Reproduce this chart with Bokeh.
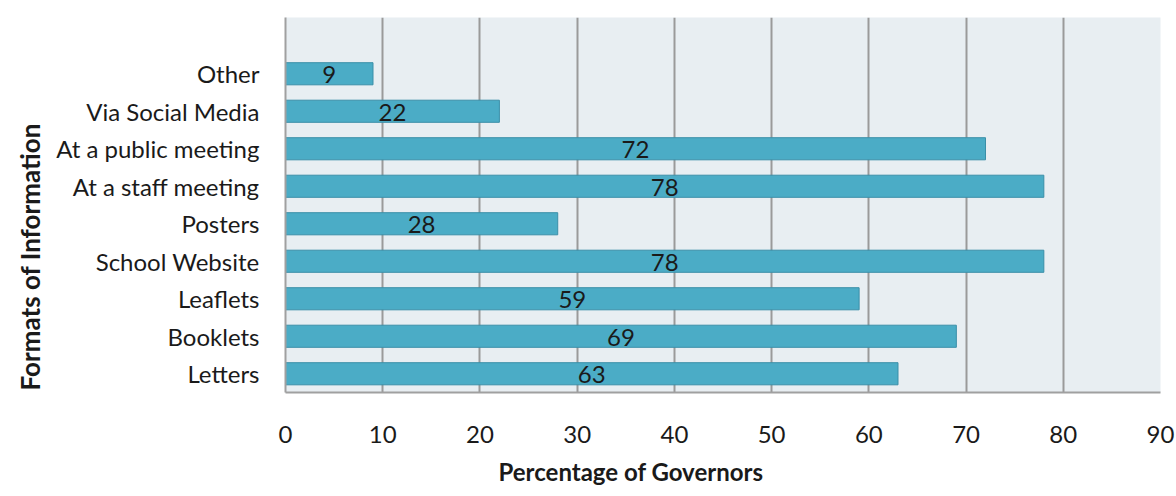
from bokeh.plotting import figure
from bokeh.models import ColumnDataSource, Range1d, FixedTicker, Title
from bokeh.core.properties import value
from bokeh.embed import file_html
from bokeh.resources import INLINE

# Survey results: share of governors receiving information in each format
formats = ["Letters", "Booklets", "Leaflets", "School Website", "Posters",
           "At a staff meeting", "At a public meeting", "Via Social Media", "Other"]
percentages = [63, 69, 59, 78, 28, 78, 72, 22, 9]
x_ticks = [0, 10, 20, 30, 40, 50, 60, 70, 80, 90]

FONT = "Lato"
TEXT = "#1A1A1A"
SIZE = "24px"
positions = list(range(len(formats)))

src = ColumnDataSource(dict(
    pos=positions,
    pct=percentages,
    mid=[v / 2 for v in percentages],
    lbl=[str(v) for v in percentages],
))

p = figure(width=1176, height=496, output_backend="svg", toolbar_location=None,
           x_range=Range1d(0, 90), y_range=Range1d(-0.5, len(formats) + 0.5),
           min_border_left=285, min_border_right=16, min_border_top=17,
           min_border_bottom=104)

p.background_fill_color = "#E8EEF2"
p.border_fill_color = "white"
p.outline_line_color = None

p.hbar(y="pos", left=0, right="pct", height=0.59, source=src,
       fill_color="#4BACC6", line_color="#3A8FA8", line_width=1)

p.text(x="mid", y="pos", text="lbl", source=src, text_align="center",
       text_baseline="middle", y_offset=1, text_font=value(FONT),
       text_font_size=SIZE, text_color=TEXT)

# x axis
p.xaxis.ticker = FixedTicker(ticks=x_ticks)
p.xaxis.major_tick_line_color = None
p.xaxis.minor_tick_line_color = None
p.xaxis.axis_line_color = "#A0A0A0"
p.xaxis.axis_line_width = 2
p.xaxis.major_label_standoff = 27
p.xaxis.major_label_text_font = FONT
p.xaxis.major_label_text_font_size = SIZE
p.xaxis.major_label_text_color = TEXT

# y axis with category names
p.yaxis.ticker = FixedTicker(ticks=positions)
p.yaxis.major_label_overrides = {i: f for i, f in enumerate(formats)}
p.yaxis.major_tick_line_color = None
p.yaxis.minor_tick_line_color = None
p.yaxis.axis_line_color = "#A0A0A0"
p.yaxis.axis_line_width = 2
p.yaxis.major_label_standoff = 20
p.yaxis.major_label_text_font = FONT
p.yaxis.major_label_text_font_size = SIZE
p.yaxis.major_label_text_color = TEXT

p.xgrid.grid_line_color = "#9A9A9A"
p.xgrid.grid_line_width = 2
p.ygrid.grid_line_color = None

# axis titles
p.add_layout(Title(text="Percentage of Governors", align="left", offset=213,
                   standoff=18, text_font=FONT, text_font_size=SIZE,
                   text_font_style="bold", text_color=TEXT), "below")
p.add_layout(Title(text="Formats  of Information", align="left", offset=2,
                   standoff=16, text_font=FONT, text_font_size="26px",
                   text_font_style="bold", text_color=TEXT), "left")

open("out.html", "w").write(file_html(p, INLINE))
